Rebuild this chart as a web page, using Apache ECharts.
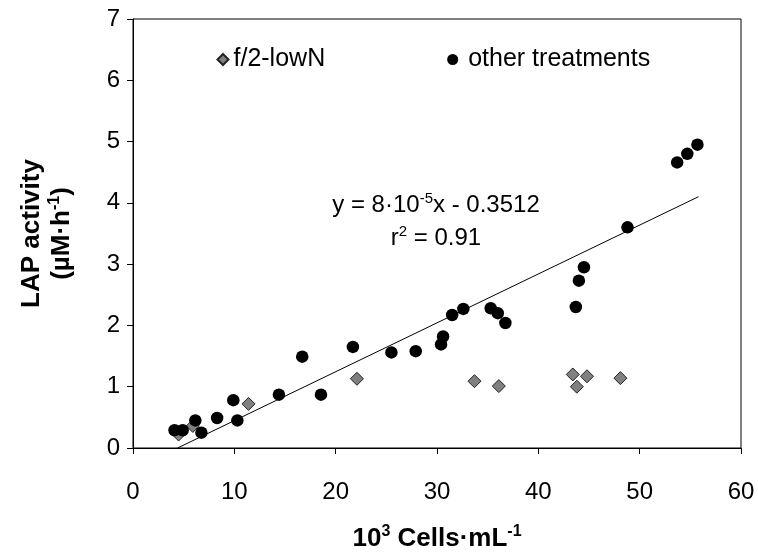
<!DOCTYPE html>
<html>
<head>
<meta charset="utf-8">
<script src="https://cdn.jsdelivr.net/npm/echarts@6/dist/echarts.min.js"></script>
<style>
html,body{margin:0;padding:0;background:#fff;}
#chart{width:758px;height:557px;}
</style>
</head>
<body>
<div id="chart"></div>
<script>
// f/2-lowN treatment: [10^3 cells/mL, LAP activity]
var lowNX = [4.5, 5.9, 11.4, 22.1, 33.7, 36.1, 43.4, 43.8, 44.8, 48.1];
var lowNY = [0.22, 0.36, 0.72, 1.13, 1.09, 1.01, 1.20, 1.00, 1.17, 1.14];
// other treatments
var otherX = [4.1, 4.9, 6.15, 6.75, 8.3, 9.9, 10.3, 14.4, 16.7, 18.55, 21.7, 25.5, 27.9, 30.4, 30.6, 31.5, 32.6, 35.3, 36.0, 36.75, 43.7, 44.0, 44.5, 48.8, 53.7, 54.7, 55.7];
var otherY = [0.29, 0.29, 0.45, 0.25, 0.49, 0.78, 0.45, 0.87, 1.49, 0.87, 1.65, 1.56, 1.58, 1.69, 1.82, 2.17, 2.27, 2.28, 2.20, 2.04, 2.30, 2.73, 2.95, 3.60, 4.66, 4.80, 4.95];
// regression line endpoints
var fitX = [4.4, 55.8];
var fitY = [0.0, 4.1];
// axis ticks
var xTicks = [0, 10, 20, 30, 40, 50, 60];
var yTicks = [0, 1, 2, 3, 4, 5, 6, 7];

var FONT = "'Liberation Sans', Arial, sans-serif";

function zip(a, b) { return a.map(function (v, i) { return [v, b[i]]; }); }

var chart = echarts.init(document.getElementById('chart'), null, {renderer: 'canvas'});
chart.setOption({
  animation: false,
  backgroundColor: '#fff',
  textStyle: {fontFamily: FONT},
  grid: {left: 133, right: 17, top: 19, bottom: 106, show: true, borderColor: '#000', borderWidth: 1, backgroundColor: 'transparent', containLabel: false},
  legend: {
    left: 211.5, top: 42,
    itemWidth: 11, itemHeight: 11, itemGap: 122,
    textStyle: {fontFamily: FONT, fontSize: 25, color: '#000'},
    data: [
      {name: 'f/2-lowN', icon: 'diamond'},
      {name: 'other treatments', icon: 'circle', textStyle: {padding: [0, 0, 0, 5]}}
    ]
  },
  xAxis: {
    type: 'value', min: xTicks[0], max: xTicks[xTicks.length - 1], interval: 10,
    axisLine: {show: true, onZero: false, lineStyle: {color: '#000', width: 1}},
    axisTick: {show: true, inside: false, length: 6, lineStyle: {color: '#000'}},
    splitLine: {show: false},
    axisLabel: {fontFamily: FONT, fontSize: 24, color: '#000', margin: 32},
    name: '{b|10}{s|3}{b| Cells·mL}{s|-1}',
    nameLocation: 'middle', nameGap: 76,
    nameTextStyle: {
      rich: {
        b: {fontFamily: FONT, fontSize: 26, fontWeight: 'bold', color: '#000', lineHeight: 30},
        s: {fontFamily: FONT, fontSize: 16, fontWeight: 'bold', color: '#000', lineHeight: 17, verticalAlign: 'top'}
      }
    }
  },
  yAxis: {
    type: 'value', min: yTicks[0], max: yTicks[yTicks.length - 1], interval: 1,
    axisLine: {show: true, onZero: false, lineStyle: {color: '#000', width: 1}},
    axisTick: {show: true, inside: false, length: 6, lineStyle: {color: '#000'}},
    splitLine: {show: false},
    axisLabel: {fontFamily: FONT, fontSize: 24, color: '#000', margin: 13},
    name: '{b|LAP activity}\n{b|(µM·h}{s|-1}{b|)}',
    nameLocation: 'middle', nameGap: 56,
    nameTextStyle: {
      rich: {
        b: {fontFamily: FONT, fontSize: 26, fontWeight: 'bold', color: '#000', lineHeight: 30},
        s: {fontFamily: FONT, fontSize: 16, fontWeight: 'bold', color: '#000', lineHeight: 18, verticalAlign: 'top'}
      }
    }
  },
  graphic: [
    {
      type: 'text', x: 436, y: 205,
      style: {
        text: '{n|y = 8·10}{s|-5}{n|x - 0.3512}',
        align: 'center', verticalAlign: 'middle',
        rich: {
          n: {fontFamily: FONT, fontSize: 24, color: '#000', lineHeight: 28},
          s: {fontFamily: FONT, fontSize: 15, color: '#000', lineHeight: 16, verticalAlign: 'top'}
        }
      },
      z: 100
    },
    {
      type: 'text', x: 436, y: 238,
      style: {
        text: '{n|r}{s|2}{n| = 0.91}',
        align: 'center', verticalAlign: 'middle',
        rich: {
          n: {fontFamily: FONT, fontSize: 24, color: '#000', lineHeight: 28},
          s: {fontFamily: FONT, fontSize: 15, color: '#000', lineHeight: 16, verticalAlign: 'top'}
        }
      },
      z: 100
    }
  ],
  series: [
    {
      name: 'f/2-lowN', type: 'scatter', symbol: 'diamond', symbolSize: 13,
      itemStyle: {color: '#808080', borderColor: '#222', borderWidth: 1, opacity: 1},
      data: zip(lowNX, lowNY), z: 2
    },
    {
      name: 'other treatments', type: 'scatter', symbol: 'circle', symbolSize: 12.5,
      itemStyle: {color: '#000', opacity: 1},
      data: zip(otherX, otherY), z: 3
    },
    {
      name: 'fit', type: 'line', showSymbol: false, symbol: 'none',
      lineStyle: {color: '#000', width: 1},
      data: zip(fitX, fitY), z: 1, silent: true
    }
  ]
});
</script>
</body>
</html>
